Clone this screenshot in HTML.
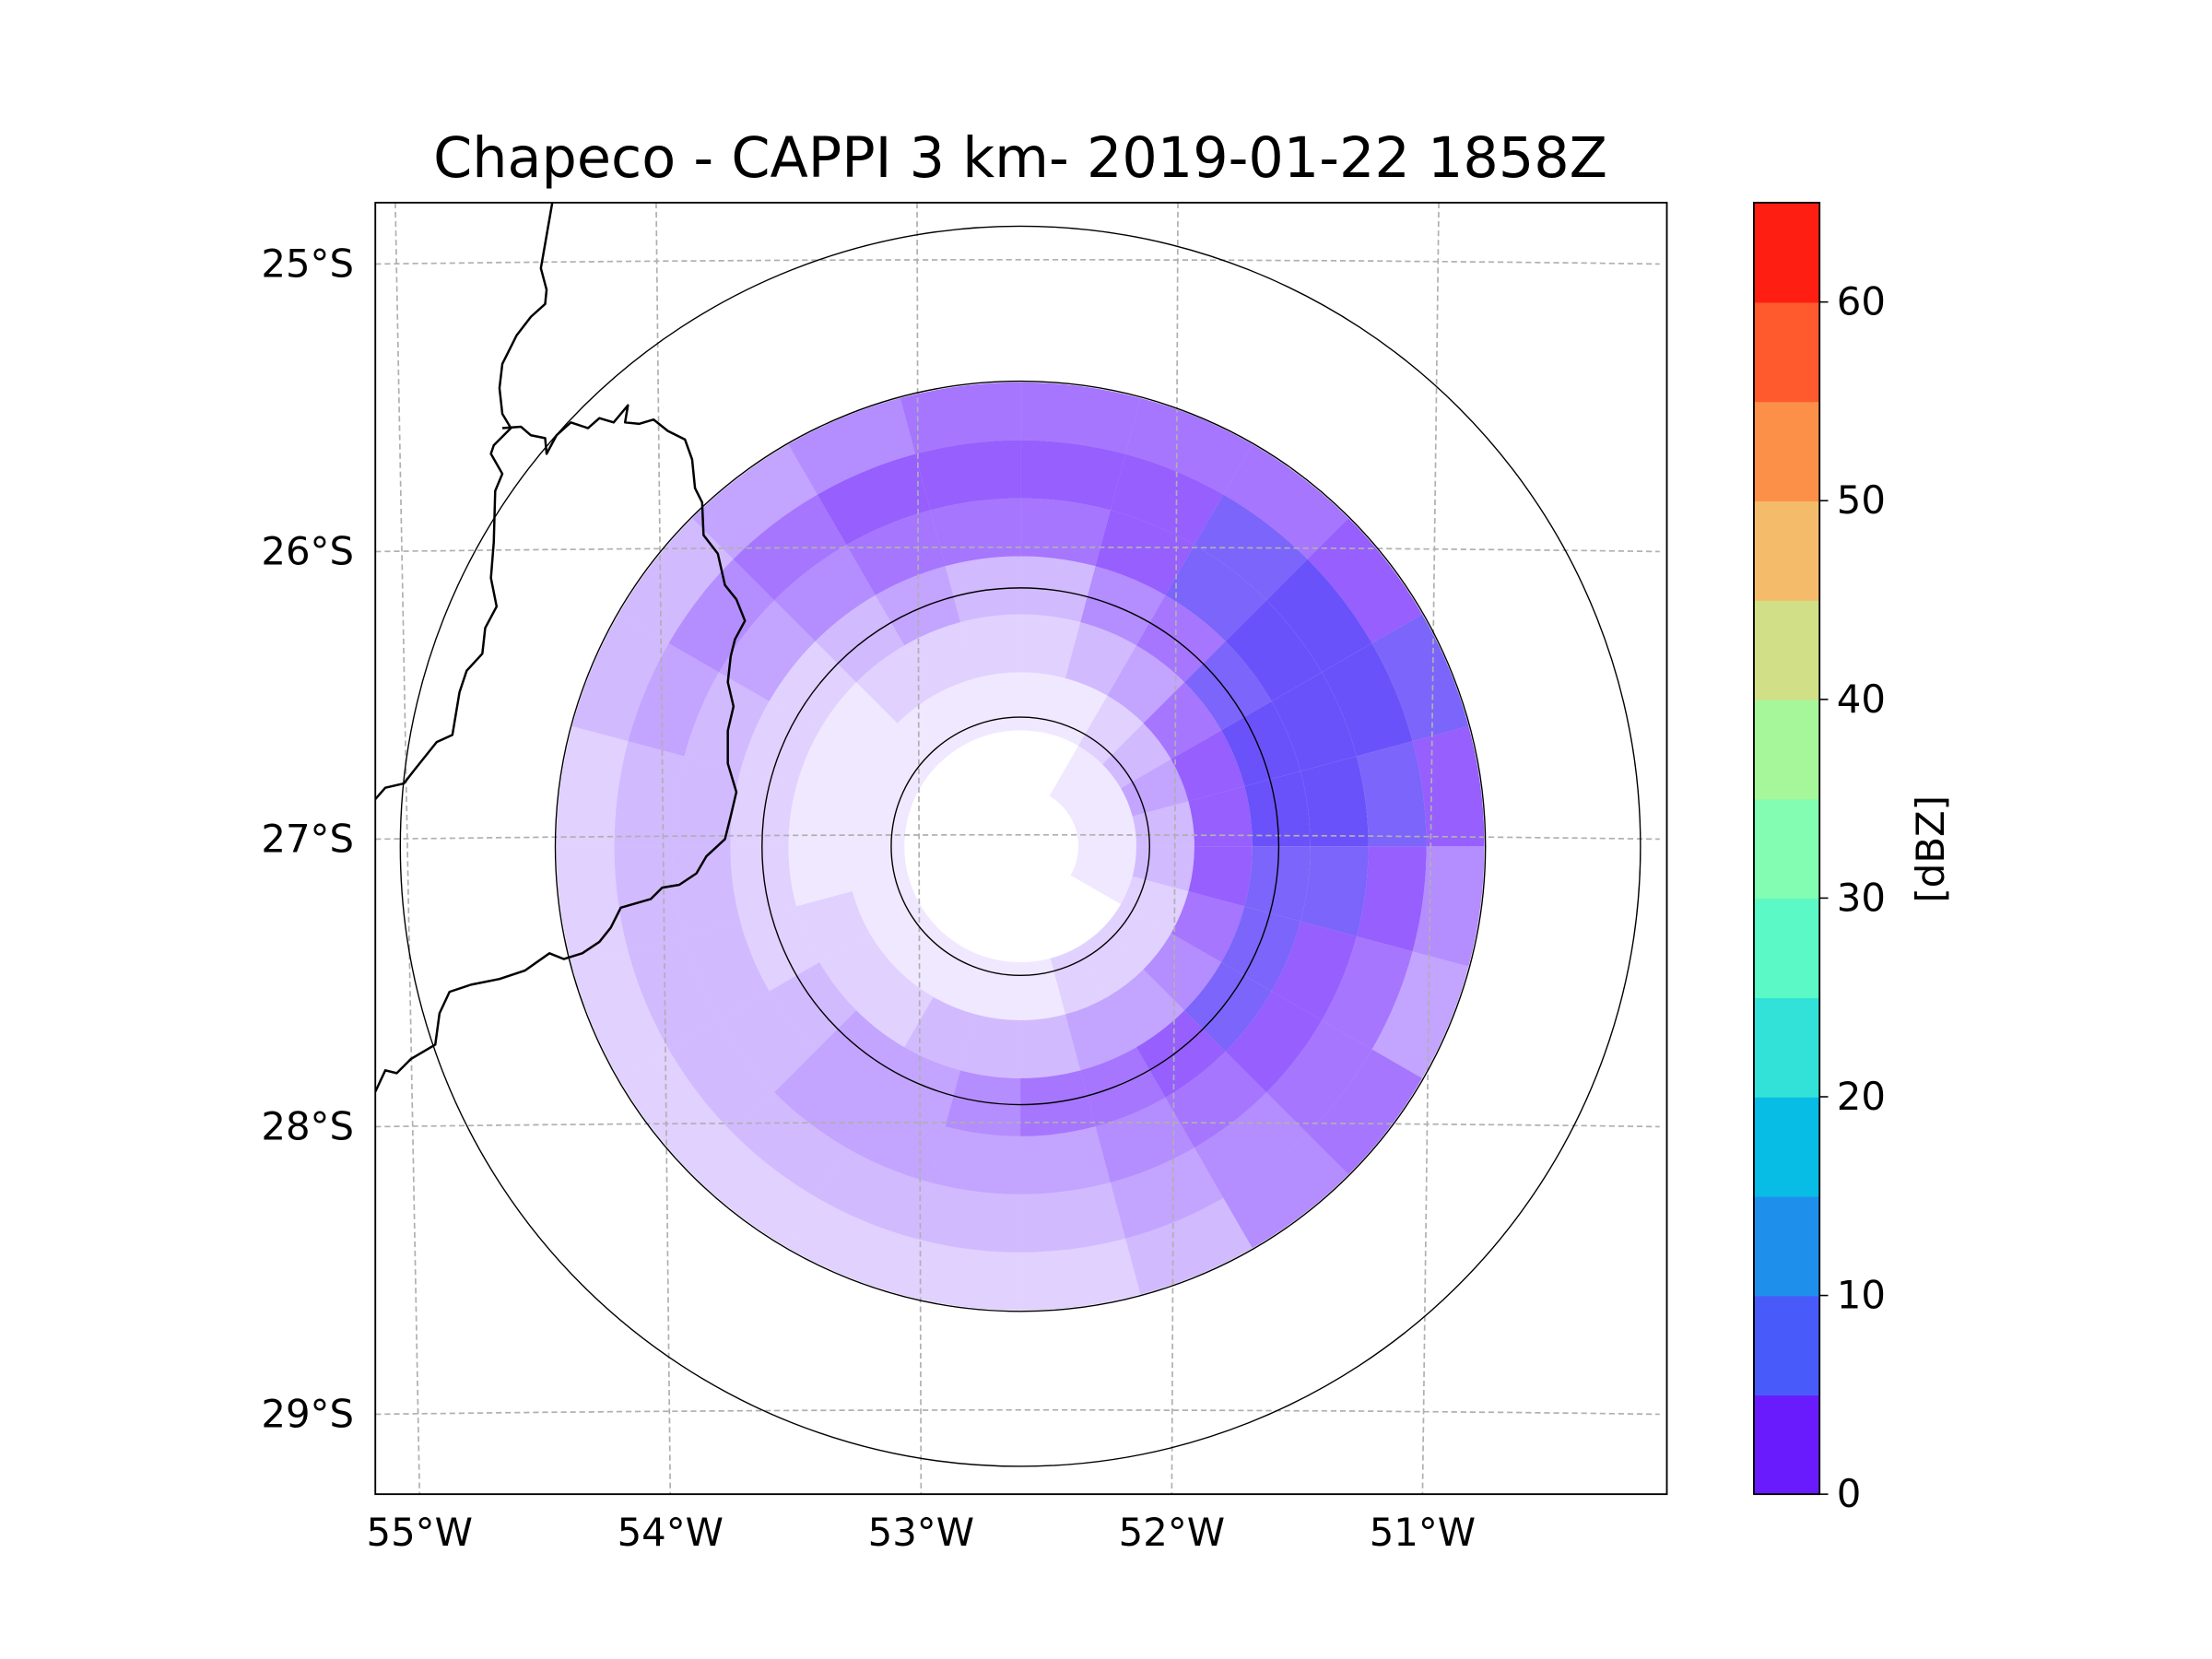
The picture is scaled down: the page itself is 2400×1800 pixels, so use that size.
<!DOCTYPE html>
<html><head><meta charset="utf-8"><style>
html,body{margin:0;padding:0;background:#fff;}
svg{display:block;font-family:"DejaVu Sans","Liberation Sans",sans-serif;}
</style></head><body>
<svg id="fig" xmlns="http://www.w3.org/2000/svg" width="2400" height="1800" viewBox="0 0 1550 1162.5">
<rect width="1550" height="1162.5" fill="#fff"/>
<text x="715" y="124" font-size="39" text-anchor="middle" fill="#000">Chapeco - CAPPI 3 km- 2019-01-22 1858Z</text>
<defs><clipPath id="clipMap"><rect x="263" y="142" width="905" height="905"/></clipPath></defs>
<g id="echoes" clip-path="url(#clipMap)"></g>
<g id="grid" clip-path="url(#clipMap)"></g>
<g id="rings"></g>
<g clip-path="url(#clipMap)" fill="none" stroke="#000" stroke-width="1.6" stroke-linejoin="round">
<path d="M387,142 L383,165 L379,188 L383,203 L382,213 L372,222 L362,235 L352,255 L350,272 L352,290 L358,300 L346,312 L344,318 L352,332 L347,344 L346,380 L344,405 L348,425 L340,440 L338,458 L327,470 L322,485 L317,515 L306,520 L290,540 L283,549 L270,552 L263,560"/>
<path d="M352,300 L365,299 L372,305 L382,307 L383,318 L390,305 L400,296 L412,300 L420,293 L430,296 L440,284 L438,296 L448,297 L458,294 L468,302 L480,308 L485,322 L487,342 L492,352 L493,375 L503,388 L508,410 L516,420 L522,435 L515,448 L512,460 L510,478 L514,495 L510,512 L510,535 L516,555 L512,572 L508,588 L495,600 L488,612 L476,620 L464,622 L456,630 L435,636 L428,650 L420,660 L408,668 L395,672 L385,668 L368,680 L350,686 L330,690 L315,695 L308,710 L305,732 L288,742 L278,752 L270,750 L263,765"/>
</g>
<rect x="263" y="142" width="905" height="905" fill="none" stroke="#000" stroke-width="1.2"/>
<g id="ticks"></g>
<g id="cbar"></g>
<text transform="translate(1362,595) rotate(-90)" font-size="27" text-anchor="middle" fill="#000">[dBZ]</text>
</svg>
<script>
// --- data ---
const latValues = [25, 26, 27, 28, 29];
const lonValues = [55, 54, 53, 52, 51];
const latLabels = ["25°S", "26°S", "27°S", "28°S", "29°S"];
const lonLabels = ["55°W", "54°W", "53°W", "52°W", "51°W"];
const ringRadiiKm = [50, 100, 180, 240];
const cbarLevels = [0, 5, 10, 15, 20, 25, 30, 35, 40, 45, 50, 55, 60, 65];
const cbarColors = ["#6a1bfe","#485bfa","#1f8fec","#07bce5","#32e1d7","#5af9c6","#82fdb2","#a6f79a","#d1df86","#f4bc6a","#fd9049","#fe5a2e","#fe1f12"];
const cbarTicks = [0, 10, 20, 30, 40, 50, 60];
// echo coverage (0-9) per 15° azimuth sector (from north, clockwise) x 8 range bins (22.5 km each)
const echoCoverage = [
[0,0,1,2,3,6,7,6],[0,0,1,3,5,7,7,6],[0,1,2,4,6,8,8,6],[0,1,3,6,8,9,9,7],
[0,1,4,7,9,9,9,8],[0,1,3,7,9,9,8,7],[0,1,3,7,8,8,7,5],[0,1,2,6,8,7,6,4],
[0,0,2,5,8,7,6,6],[0,0,2,4,7,6,5,5],[0,0,2,4,6,5,4,3],[0,0,1,3,6,4,3,2],
[0,0,1,3,5,4,3,2],[0,0,1,3,4,4,3,2],[0,0,1,2,4,4,3,2],[0,0,1,2,3,3,3,2],
[0,0,1,2,2,3,3,2],[0,0,1,1,2,3,3,2],[0,0,1,1,2,3,3,2],[0,0,1,1,2,3,4,3],
[0,0,1,1,2,4,5,3],[0,0,1,2,3,5,6,4],[0,0,1,2,4,6,7,5],[0,0,1,2,3,6,7,6]
];
// --- axis functions ---
const NS = "http://www.w3.org/2000/svg";
const cx = 715, cy = 593, pxPerKm = 434.5/240;
function latY(lat, x){ const base = 185 + (lat-25)*201.5; const t=(x-715)/450; return base - 3*(1 - t*t); }
function lonX(lon, y){ const xb = 294 + (55-lon)*175.7; const xt = 277 + (55-lon)*182.8; const f=(y-1047)/(142-1047); return xb + (xt-xb)*f; }
function rPx(km){ return km*pxPerKm; }
function mk(tag, attrs, parent){ const e=document.createElementNS(NS,tag); for(const k in attrs) e.setAttribute(k, attrs[k]); parent.appendChild(e); return e; }
// echoes
const eg = document.getElementById('echoes');
const nAz = echoCoverage.length, binKm = 22.45;
echoCoverage.forEach((row, i) => {
  row.forEach((v, j) => {
    if (v <= 0) return;
    const a0 = (i*360/nAz - 90)*Math.PI/180, a1 = ((i+1)*360/nAz - 90)*Math.PI/180;
    const r0 = rPx(j*binKm), r1 = rPx((j+1)*binKm);
    const d = `M${cx+r0*Math.cos(a0)},${cy+r0*Math.sin(a0)} L${cx+r1*Math.cos(a0)},${cy+r1*Math.sin(a0)} A${r1},${r1} 0 0 1 ${cx+r1*Math.cos(a1)},${cy+r1*Math.sin(a1)} L${cx+r0*Math.cos(a1)},${cy+r0*Math.sin(a1)} A${r0},${r0} 0 0 0 ${cx+r0*Math.cos(a0)},${cy+r0*Math.sin(a0)} Z`;
    const p = mk('path', {d: d, fill: v >= 8 ? '#5a3ff9' : '#6a1bfe', 'fill-opacity': (v/9*0.9).toFixed(2)}, eg);
    
    
  });
});
// graticule
const gg = document.getElementById('grid');
latValues.forEach(lat => {
  let d = ''; for (let x=263; x<=1168; x+=15) d += (d?'L':'M') + x + ',' + latY(lat,x).toFixed(1) + ' ';
  const p = mk('path', {d: d, fill:'none', stroke:'#b0b0b0', 'stroke-width':1.1, 'stroke-dasharray':'4,2.5'}, gg);
  
  
});
lonValues.forEach(lon => {
  const p = mk('line', {x1: lonX(lon,142), y1:142, x2: lonX(lon,1047), y2:1047, stroke:'#b0b0b0', 'stroke-width':1.1, 'stroke-dasharray':'4,2.5'}, gg);
  
  
});
// rings
const rg = document.getElementById('rings');
ringRadiiKm.forEach(km => {
  const c = mk('circle', {cx: cx, cy: cy, r: rPx(km), fill:'none', stroke:'#000', 'stroke-width':0.9}, rg);
  
  
});
// tick labels
const tg = document.getElementById('ticks');
latValues.forEach((lat, i) => {
  const t = mk('text', {x: 248, y: latY(lat,263)+9, 'font-size':27, 'text-anchor':'end', fill:'#000'}, tg);
  t.textContent = latLabels[i];
  
  
});
lonValues.forEach((lon, i) => {
  const t = mk('text', {x: lonX(lon,1047), y: 1083, 'font-size':27, 'text-anchor':'middle', fill:'#000'}, tg);
  t.textContent = lonLabels[i];
  
  
});
// colorbar
const cg = document.getElementById('cbar');
const cbTop = 142, cbBot = 1047, cbX = 1229, cbW = 46;
const vmin = cbarLevels[0], vmax = cbarLevels[cbarLevels.length-1];
function cbY(v){ return cbBot - (v - vmin)/(vmax - vmin)*(cbBot - cbTop); }
cbarColors.forEach((col, i) => {
  const y0 = cbY(cbarLevels[i+1]), y1 = cbY(cbarLevels[i]);
  const r = mk('rect', {x: cbX, y: y0, width: cbW, height: (y1-y0)+0.5, fill: col}, cg);
  
  
});
const fr = mk('rect', {x: cbX, y: cbTop, width: cbW, height: cbBot-cbTop, fill:'none', stroke:'#000', 'stroke-width':1.2}, cg);


cbarTicks.forEach(v => {
  const l = mk('line', {x1: cbX+cbW, x2: cbX+cbW+6, y1: cbY(v), y2: cbY(v), stroke:'#000', 'stroke-width':1}, cg);
  
  
  const t = mk('text', {x: cbX+cbW+12, y: cbY(v)+9, 'font-size':27, fill:'#000'}, cg);
  t.textContent = String(v);
  
  
});
</script>
</body></html>
